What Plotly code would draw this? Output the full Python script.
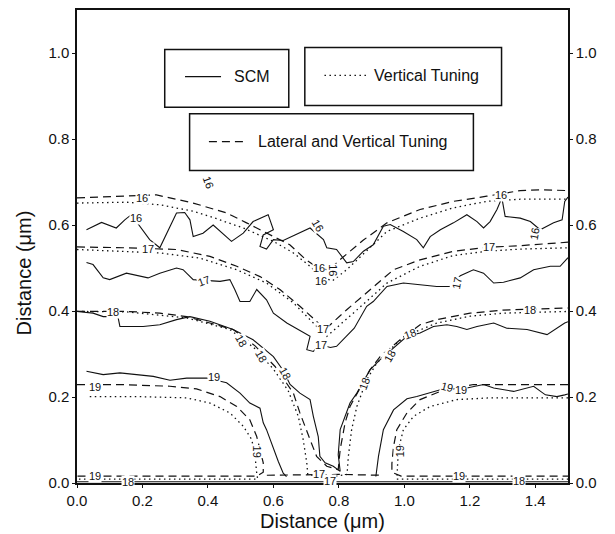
import plotly.graph_objects as go

# ---------------- data (units: micrometres) ----------------
x_ticks = [0.0, 0.2, 0.4, 0.6, 0.8, 1.0, 1.2, 1.4]
y_ticks = [0.0, 0.2, 0.4, 0.6, 0.8, 1.0]

# SCM (solid)
scm16_x = [0.029, 0.075, 0.12, 0.146, 0.166, 0.192, 0.222, 0.253, 0.284, 0.304, 0.329, 0.345, 0.355, 0.385, 0.416,
           0.437, 0.472, 0.508, 0.538, 0.584, 0.60, 0.569, 0.559, 0.579, 0.60, 0.63, 0.681, 0.712, 0.753, 0.763,
           0.793, 0.824, 0.844, 0.875, 0.905, 0.936, 0.957, 0.997, 1.038, 1.058, 1.079, 1.11, 1.15, 1.191, 1.222,
           1.242, 1.262, 1.283, 1.298, 1.308, 1.354, 1.385, 1.415, 1.456, 1.482, 1.49, 1.5]
scm16_y = [0.589, 0.606, 0.593, 0.612, 0.624, 0.597, 0.566, 0.547, 0.597, 0.628, 0.629, 0.612, 0.573, 0.581, 0.60,
           0.585, 0.562, 0.581, 0.608, 0.624, 0.589, 0.577, 0.550, 0.544, 0.566, 0.564, 0.581, 0.593, 0.566, 0.547,
           0.543, 0.512, 0.515, 0.539, 0.554, 0.597, 0.601, 0.585, 0.566, 0.547, 0.573, 0.589, 0.605, 0.624, 0.608,
           0.593, 0.608, 0.636, 0.663, 0.62, 0.616, 0.608, 0.589, 0.605, 0.612, 0.655, 0.665]

scm17_x = [0.029, 0.049, 0.08, 0.10, 0.151, 0.217, 0.253, 0.304, 0.324, 0.355, 0.437, 0.467, 0.482, 0.498, 0.528,
           0.549, 0.579, 0.60, 0.641, 0.691, 0.712, 0.702, 0.722, 0.742, 0.774, 0.793, 0.824, 0.847, 0.885, 0.905,
           0.947, 0.997, 1.048, 1.099, 1.14, 1.171, 1.211, 1.242, 1.273, 1.303, 1.354, 1.395, 1.446, 1.476, 1.5]
scm17_y = [0.513, 0.508, 0.477, 0.473, 0.488, 0.477, 0.488, 0.50, 0.496, 0.473, 0.469, 0.473, 0.45, 0.422, 0.422,
           0.45, 0.426, 0.395, 0.372, 0.349, 0.341, 0.31, 0.306, 0.322, 0.315, 0.318, 0.341, 0.36, 0.411, 0.422,
           0.457, 0.465, 0.461, 0.457, 0.457, 0.482, 0.496, 0.488, 0.465, 0.467, 0.477, 0.496, 0.504, 0.504, 0.524]

scm18_x = [0.0, 0.049, 0.08, 0.125, 0.131, 0.202, 0.253, 0.304, 0.345, 0.406, 0.477, 0.538, 0.60, 0.629, 0.651,
           0.681, 0.712, 0.722, 0.737, 0.742, 0.758, 0.783, 0.804, 0.798, 0.804, 0.819, 0.834, 0.855, 0.895, 0.926,
           0.967, 1.008, 1.048, 1.089, 1.13, 1.16, 1.191, 1.222, 1.273, 1.313, 1.375, 1.436, 1.49, 1.5]
scm18_y = [0.399, 0.395, 0.387, 0.387, 0.364, 0.364, 0.368, 0.38, 0.387, 0.376, 0.357, 0.333, 0.294, 0.263, 0.229,
           0.209, 0.194, 0.155, 0.108, 0.062, 0.047, 0.039, 0.027, 0.066, 0.124, 0.155, 0.186, 0.209, 0.263, 0.287,
           0.314, 0.341, 0.349, 0.364, 0.368, 0.364, 0.357, 0.364, 0.372, 0.36, 0.357, 0.345, 0.372, 0.375]

scm19a_x = [0.029, 0.08, 0.131, 0.182, 0.233, 0.284, 0.335, 0.396, 0.457, 0.498, 0.528, 0.559, 0.569, 0.579, 0.60,
            0.615, 0.63, 0.64]
scm19a_y = [0.26, 0.252, 0.256, 0.252, 0.248, 0.239, 0.244, 0.244, 0.233, 0.209, 0.186, 0.174, 0.14, 0.124, 0.078,
            0.05, 0.023, 0.015]
scm19b_x = [0.913, 0.921, 0.936, 0.967, 1.008, 1.038, 1.11, 1.191, 1.242, 1.273, 1.334, 1.395, 1.431, 1.466, 1.49, 1.5]
scm19b_y = [0.015, 0.062, 0.124, 0.17, 0.196, 0.201, 0.217, 0.221, 0.229, 0.221, 0.213, 0.225, 0.205, 0.201, 0.205, 0.207]

scm_bottom_x = [0.0, 0.4, 0.8, 1.2, 1.5]
scm_bottom_y = [0.003, 0.003, 0.004, 0.003, 0.003]

# Vertical Tuning (dotted)
vt16_x = [0.0, 0.151, 0.253, 0.355, 0.406, 0.508, 0.60, 0.661, 0.712, 0.745, 0.78, 0.824, 0.885, 0.947, 1.048,
          1.150, 1.252, 1.354, 1.5]
vt16_y = [0.651, 0.653, 0.647, 0.632, 0.62, 0.593, 0.562, 0.535, 0.504, 0.48, 0.47, 0.496, 0.54, 0.585, 0.616,
          0.640, 0.655, 0.660, 0.660]
vt17_x = [0.0, 0.253, 0.375, 0.488, 0.579, 0.661, 0.722, 0.753, 0.763, 0.844, 0.947, 1.048, 1.150, 1.252, 1.354, 1.5]
vt17_y = [0.543, 0.535, 0.523, 0.496, 0.465, 0.419, 0.372, 0.349, 0.341, 0.395, 0.465, 0.504, 0.529, 0.539, 0.544, 0.547]
vt18_x = [0.0, 0.151, 0.335, 0.467, 0.54, 0.60, 0.645, 0.676, 0.691, 0.702, 0.705, 0.76, 0.825, 0.829, 0.839, 0.855,
          0.885, 0.916, 0.967, 1.0, 1.099, 1.201, 1.303, 1.5]
vt18_y = [0.399, 0.398, 0.384, 0.357, 0.315, 0.265, 0.215, 0.155, 0.101, 0.047, 0.02, 0.012, 0.02, 0.062, 0.124,
          0.178, 0.24, 0.279, 0.318, 0.341, 0.372, 0.388, 0.395, 0.399]
vt19a_x = [0.039, 0.182, 0.335, 0.406, 0.467, 0.508, 0.534, 0.544, 0.549, 0.552, 0.3, 0.0]
vt19a_y = [0.201, 0.201, 0.198, 0.186, 0.163, 0.132, 0.101, 0.062, 0.023, 0.009, 0.009, 0.009]
vt19b_x = [1.5, 1.262, 1.16, 1.079, 1.028, 0.997, 0.982, 0.977, 0.977, 1.2, 1.5]
vt19b_y = [0.198, 0.198, 0.194, 0.178, 0.155, 0.124, 0.078, 0.023, 0.009, 0.009, 0.009]

# Lateral and Vertical Tuning (dashed)
lvt16_x = [0.0, 0.122, 0.243, 0.355, 0.457, 0.518, 0.579, 0.65, 0.70, 0.737, 0.77, 0.803, 0.875, 0.947, 1.048,
           1.150, 1.252, 1.354, 1.42, 1.5]
lvt16_y = [0.663, 0.667, 0.670, 0.651, 0.628, 0.605, 0.581, 0.554, 0.519, 0.50, 0.495, 0.519, 0.565, 0.605, 0.636,
           0.655, 0.667, 0.680, 0.682, 0.680]
lvt17_x = [0.0, 0.151, 0.304, 0.406, 0.488, 0.559, 0.62, 0.681, 0.732, 0.758, 0.824, 0.895, 0.967, 1.048, 1.150,
           1.252, 1.354, 1.5]
lvt17_y = [0.549, 0.547, 0.543, 0.527, 0.504, 0.480, 0.45, 0.411, 0.376, 0.357, 0.403, 0.45, 0.496, 0.519, 0.539,
           0.548, 0.552, 0.56]
lvt18_x = [0.0, 0.151, 0.253, 0.335, 0.406, 0.477, 0.544, 0.605, 0.661, 0.681, 0.712, 0.732, 0.763, 0.798, 0.804,
           0.819, 0.834, 0.895, 0.926, 0.987, 1.048, 1.099, 1.201, 1.30, 1.5]
lvt18_y = [0.399, 0.399, 0.395, 0.387, 0.372, 0.357, 0.319, 0.271, 0.209, 0.163, 0.101, 0.062, 0.039, 0.031, 0.078,
           0.14, 0.178, 0.263, 0.294, 0.333, 0.368, 0.38, 0.395, 0.402, 0.407]
lvt19a_x = [0.0, 0.131, 0.284, 0.365, 0.437, 0.488, 0.528, 0.549, 0.559, 0.569, 0.569, 0.55, 0.4, 0.2, 0.0]
lvt19a_y = [0.229, 0.229, 0.225, 0.219, 0.201, 0.178, 0.147, 0.108, 0.078, 0.047, 0.025, 0.016, 0.016, 0.016, 0.016]
lvt19b_x = [1.5, 1.364, 1.211, 1.11, 1.048, 1.008, 0.977, 0.967, 0.962, 0.962, 0.99, 1.2, 1.5]
lvt19b_y = [0.229, 0.229, 0.229, 0.213, 0.194, 0.163, 0.124, 0.085, 0.045, 0.025, 0.016, 0.016, 0.016]
lvt_bottom_x = [0.58, 0.7, 0.8, 0.93]
lvt_bottom_y = [0.018, 0.02, 0.02, 0.018]

# contour labels: text, x, y, angle
label_text = ["16", "16", "16", "16", "16", "16", "16", "16", "16",
              "17", "17", "17", "17", "17", "17",
              "18", "18", "18", "18", "18", "18", "18", "18",
              "19", "19", "19", "19", "19", "19", "19", "19",
              "18", "17", "17", "18"]
label_x = [0.20, 0.181, 0.40, 0.735, 0.738, 0.782, 0.744, 1.294, 1.397,
           0.218, 0.387, 0.75, 0.744, 1.258, 1.161,
           0.109, 0.502, 0.562, 0.635, 0.877, 0.956, 1.016, 1.385,
           0.417, 0.054, 0.55, 0.986, 1.131, 1.173, 0.054, 1.167,
           0.157, 0.738, 0.774, 1.349]
label_y = [0.663, 0.616, 0.699, 0.60, 0.50, 0.495, 0.47, 0.669, 0.58,
           0.544, 0.469, 0.358, 0.322, 0.548, 0.465,
           0.398, 0.33, 0.295, 0.255, 0.231, 0.295, 0.346, 0.402,
           0.247, 0.223, 0.073, 0.073, 0.223, 0.216, 0.017, 0.017,
           0.003, 0.021, 0.004, 0.004]
label_angle = [0, 0, 70, 60, 0, 90, 0, 0, -80,
               0, -20, 0, 0, 0, -80,
               0, 60, 60, 60, -70, -60, -20, 0,
               0, 0, 90, -90, 15, 0, 0, 0,
               0, 0, 0, 0]

# legend texts
legend_names = ["SCM", "Vertical Tuning", "Lateral and Vertical Tuning"]

# ---------------- figure ----------------
BLACK = "#111111"
FONT = "Liberation Sans, Arial, sans-serif"
solid = dict(color=BLACK, width=1.1)
dotted = dict(color=BLACK, width=1.3, dash="1.5px,3.5px")
dashed = dict(color=BLACK, width=1.2, dash="8px,5px")

fig = go.Figure()

series = [
    (scm16_x, scm16_y, solid), (scm17_x, scm17_y, solid), (scm18_x, scm18_y, solid),
    (scm19a_x, scm19a_y, solid), (scm19b_x, scm19b_y, solid), (scm_bottom_x, scm_bottom_y, solid),
    (vt16_x, vt16_y, dotted), (vt17_x, vt17_y, dotted), (vt18_x, vt18_y, dotted),
    (vt19a_x, vt19a_y, dotted), (vt19b_x, vt19b_y, dotted),
    (lvt16_x, lvt16_y, dashed), (lvt17_x, lvt17_y, dashed), (lvt18_x, lvt18_y, dashed),
    (lvt19a_x, lvt19a_y, dashed), (lvt19b_x, lvt19b_y, dashed), (lvt_bottom_x, lvt_bottom_y, dashed),
]
for xs, ys, ln in series:
    assert len(xs) == len(ys)
    fig.add_trace(go.Scatter(x=xs, y=ys, mode="lines", line=ln, showlegend=False,
                             hoverinfo="skip", cliponaxis=True))

# invisible trace to activate the right axis
fig.add_trace(go.Scatter(x=[0.0], y=[0.0], yaxis="y2", mode="markers",
                         marker=dict(opacity=0), showlegend=False, hoverinfo="skip"))

# contour labels
for t, lx, ly, ang in zip(label_text, label_x, label_y, label_angle):
    fig.add_annotation(x=lx, y=ly, xref="x", yref="y", text=t, showarrow=False,
                       textangle=ang, bgcolor="white", borderpad=0,
                       font=dict(family=FONT, size=11, color=BLACK))

# legend boxes (in data coordinates)
boxes = [(0.268, 0.874, 0.647, 1.008), (0.696, 0.878, 1.297, 1.013), (0.344, 0.727, 1.211, 0.859)]
for x0, y0, x1, y1 in boxes:
    fig.add_shape(type="rect", xref="x", yref="y", x0=x0, y0=y0, x1=x1, y1=y1,
                  line=dict(color=BLACK, width=1.5), fillcolor="white", layer="above")
samples = [((0.33, 0.44, 0.945), solid), ((0.756, 0.889, 0.948), dotted), ((0.403, 0.52, 0.794), dashed)]
for (sx0, sx1, sy), ln in samples:
    fig.add_shape(type="line", xref="x", yref="y", x0=sx0, x1=sx1, y0=sy, y1=sy, line=ln, layer="above")
legend_pos = [(0.472, 0.945), (0.901, 0.948), (0.547, 0.794)]
for name, (tx, ty) in zip(legend_names, legend_pos):
    fig.add_annotation(x=tx, y=ty, xref="x", yref="y", text=name, showarrow=False, xanchor="left",
                       yanchor="middle", font=dict(family=FONT, size=16, color=BLACK))

# axis titles
fig.add_annotation(x=0.5, y=-0.081, xref="paper", yref="paper", text="Distance (μm)", showarrow=False,
                   xanchor="center", yanchor="middle", font=dict(family=FONT, size=20, color=BLACK))
fig.add_annotation(x=-0.108, y=0.445, xref="paper", yref="paper", text="Distance (μm)", showarrow=False,
                   xanchor="center", yanchor="middle", textangle=-90,
                   font=dict(family=FONT, size=20, color=BLACK))

axis_common = dict(showgrid=False, zeroline=False, showline=True, linecolor=BLACK, linewidth=1.5,
                   ticks="outside", ticklen=3, tickcolor=BLACK, tickwidth=1, automargin=False,
                   tickfont=dict(family=FONT, size=15, color=BLACK))
# the page body adds an 8px margin, so the figure is sized/margined to compensate
fig.update_layout(
    width=607, height=526,
    margin=dict(l=69, r=47, t=2, b=51, autoexpand=False),
    paper_bgcolor="white", plot_bgcolor="white",
    showlegend=False,
    xaxis=dict(range=[0, 1.5], tickvals=x_ticks, ticktext=[f"{v:.1f}" for v in x_ticks],
               mirror=True, **axis_common),
    yaxis=dict(range=[0, 1.1], tickvals=y_ticks, ticktext=[f"{v:.1f}" for v in y_ticks], **axis_common),
    yaxis2=dict(range=[0, 1.1], overlaying="y", side="right", tickvals=y_ticks,
                ticktext=[f"{v:.1f}" for v in y_ticks], **axis_common),
)

fig.write_html("out.html")
